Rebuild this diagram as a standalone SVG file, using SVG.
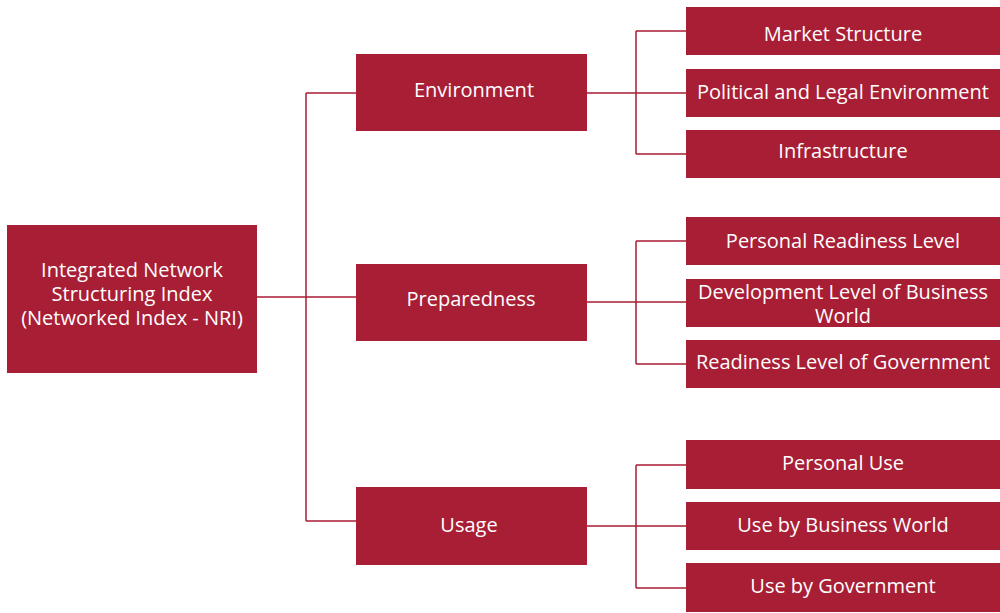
<svg xmlns="http://www.w3.org/2000/svg" width="1000" height="613" viewBox="0 0 1000 613">
<style>
.box{fill:#A81E35;}
.t{fill:#ffffff;font-family:"Open Sans","Noto Sans",sans-serif;font-size:20px;text-anchor:middle;}
.c{fill:none;stroke:#A81E35;stroke-width:1.5;}
</style>
<rect width="1000" height="613" fill="#ffffff"/>
<g id="connectors">
<path class="c" d="M257,297 H356 M306,93 V521 M306,93 H356 M306,521 H356"/>
<path class="c" d="M587,93 H686 M636,31 V154 M636,31 H686 M636,154 H686"/>
<path class="c" d="M587,302 H686 M636,241 V364 M636,241 H686 M636,364 H686"/>
<path class="c" d="M587,526 H686 M636,465 V588 M636,465 H686 M636,588 H686"/>
</g>
<g id="nri">
<rect class="box" x="7" y="225" width="250" height="148"/>
<text class="t" x="132" y="277">Integrated Network</text>
<text class="t" x="132" y="301">Structuring Index</text>
<text class="t" x="132" y="325">(Networked Index - NRI)</text>
</g>
<g id="environment">
<rect class="box" x="356" y="54" width="231" height="77"/>
<text class="t" x="474" y="97">Environment</text>
</g>
<g id="preparedness">
<rect class="box" x="356" y="264" width="231" height="77"/>
<text class="t" x="471" y="306">Preparedness</text>
</g>
<g id="usage">
<rect class="box" x="356" y="487" width="231" height="78"/>
<text class="t" x="469" y="532">Usage</text>
</g>
<g id="market-structure">
<rect class="box" x="686" y="7" width="314" height="48"/>
<text class="t" x="843" y="41">Market Structure</text>
</g>
<g id="political-legal">
<rect class="box" x="686" y="69" width="314" height="48"/>
<text class="t" x="843" y="99">Political and Legal Environment</text>
</g>
<g id="infrastructure">
<rect class="box" x="686" y="130" width="314" height="48"/>
<text class="t" x="843" y="158">Infrastructure</text>
</g>
<g id="personal-readiness">
<rect class="box" x="686" y="217" width="314" height="48"/>
<text class="t" x="843" y="248">Personal Readiness Level</text>
</g>
<g id="business-development">
<rect class="box" x="686" y="279" width="314" height="48"/>
<text class="t" x="843" y="299">Development Level of Business</text>
<text class="t" x="843" y="323">World</text>
</g>
<g id="government-readiness">
<rect class="box" x="686" y="340" width="314" height="48"/>
<text class="t" x="843" y="369">Readiness Level of Government</text>
</g>
<g id="personal-use">
<rect class="box" x="686" y="440" width="314" height="49"/>
<text class="t" x="843" y="470">Personal Use</text>
</g>
<g id="business-use">
<rect class="box" x="686" y="502" width="314" height="48"/>
<text class="t" x="843" y="532">Use by Business World</text>
</g>
<g id="government-use">
<rect class="box" x="686" y="563" width="314" height="49"/>
<text class="t" x="843" y="593">Use by Government</text>
</g>
</svg>
